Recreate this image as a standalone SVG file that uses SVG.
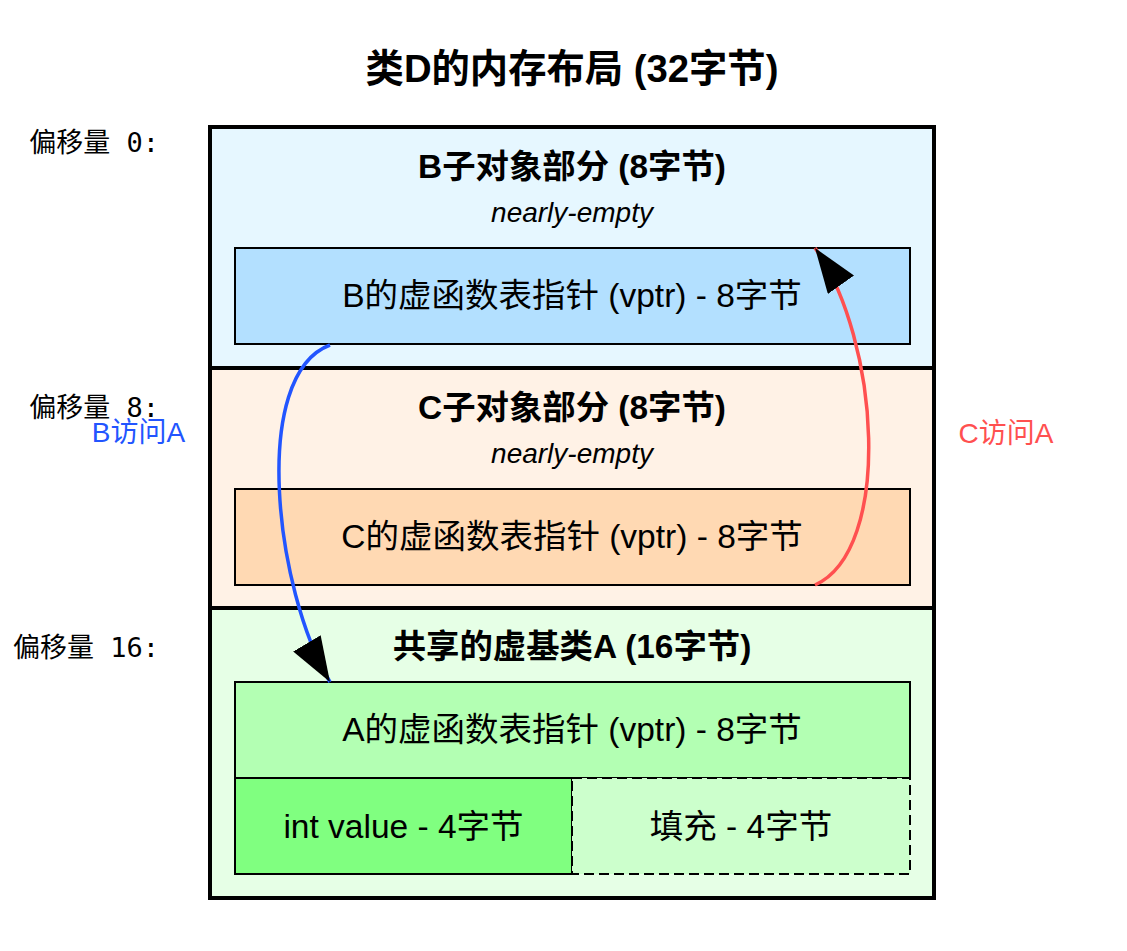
<svg xmlns="http://www.w3.org/2000/svg" width="1127" height="951" viewBox="0 0 1127 951">
<style>
.t{font-family:"Liberation Sans","Noto Sans CJK SC",sans-serif;fill:#000;text-anchor:middle}
.title{font-size:38.3px;font-weight:bold}
.sec{font-size:33.4px;font-weight:bold}
.sub{font-size:28px;font-style:italic}
.lbl{font-size:33.5px}
.off{font-family:"DejaVu Sans Mono","Noto Sans CJK SC",monospace;font-size:27px;text-anchor:end;fill:#000}
.outer{stroke:#000;stroke-width:4}
.inner{stroke:#000;stroke-width:2}
.conn{fill:none;stroke-width:3.5}
</style>
<defs>
<marker id="ah" viewBox="0 0 45 32" refX="45" refY="16" markerWidth="45" markerHeight="32" markerUnits="userSpaceOnUse" orient="auto">
<path d="M0,0 L45,16 L0,32 z" fill="#000"/>
</marker>
</defs>
<rect width="1127" height="951" fill="#fff"/>
<text class="t title" x="572" y="82">类D的内存布局 (32字节)</text>

<g id="sectionB">
<rect class="outer" x="210" y="127" width="724" height="241" fill="#e6f7ff"/>
<text class="t sec" x="572" y="178">B子对象部分 (8字节)</text>
<text class="t sub" x="572" y="222">nearly-empty</text>
</g>
<g id="vptrB">
<rect class="inner" x="235" y="248" width="675" height="96" fill="#b3e0ff"/>
<text class="t lbl" x="572" y="307">B的虚函数表指针 (vptr) - 8字节</text>
</g>

<g id="sectionC">
<rect class="outer" x="210" y="368" width="724" height="240" fill="#fff2e6"/>
<text class="t sec" x="572" y="419">C子对象部分 (8字节)</text>
<text class="t sub" x="572" y="463">nearly-empty</text>
</g>
<g id="vptrC">
<rect class="inner" x="235" y="489" width="675" height="96" fill="#ffd9b3"/>
<text class="t lbl" x="572" y="548">C的虚函数表指针 (vptr) - 8字节</text>
</g>

<g id="sectionA">
<rect class="outer" x="210" y="608" width="724" height="290" fill="#e6ffe6"/>
<text class="t sec" x="572" y="658">共享的虚基类A (16字节)</text>
</g>
<g id="vptrA">
<rect class="inner" x="235" y="682" width="675" height="96" fill="#b3ffb3"/>
<text class="t lbl" x="572" y="741">A的虚函数表指针 (vptr) - 8字节</text>
</g>
<g id="intValue">
<rect class="inner" x="235" y="778" width="337" height="96" fill="#80ff80"/>
<text class="t lbl" x="403.5" y="838">int value - 4字节</text>
</g>
<g id="padding">
<rect class="inner" x="572" y="778" width="338" height="96" fill="#ccffcc" stroke-dasharray="10,5"/>
<text class="t lbl" x="741" y="838">填充 - 4字节</text>
</g>

<g id="offsets">
<text class="off" x="159" y="152">偏移量 0:</text>
<text class="off" x="159" y="417">偏移量 8:</text>
<text class="off" x="159" y="657">偏移量 16:</text>
</g>

<g id="connectors">
<path class="conn" stroke="#2255ff" d="M330,345 C250,375 275,590 330,682" marker-end="url(#ah)"/>
<path class="conn" stroke="#ff5050" d="M815,585 C893,550 880,340 815,248" marker-end="url(#ah)"/>
<text class="t" x="138.5" y="442" font-size="28" style="fill:#2255ff">B访问A</text>
<text class="t" x="1006" y="443" font-size="28" style="fill:#ff5050">C访问A</text>
</g>
</svg>
